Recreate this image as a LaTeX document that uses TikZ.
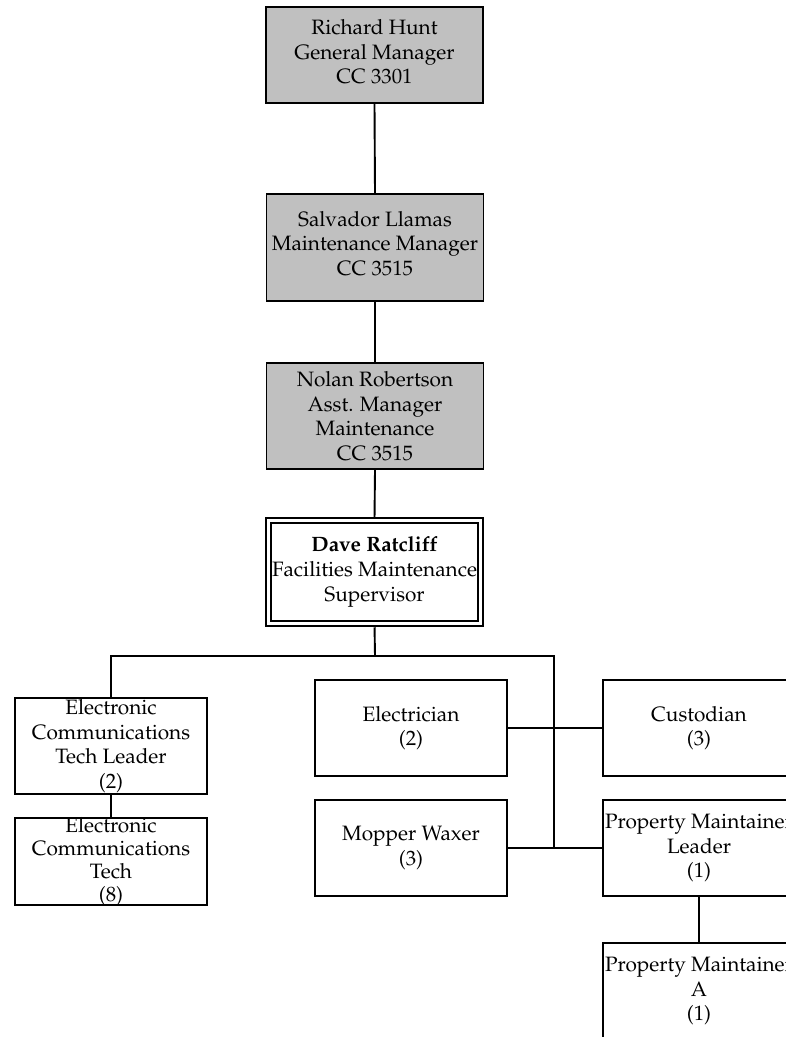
\documentclass[tikz,border=0pt]{standalone}
\usepackage[T1]{fontenc}
\usepackage{mathpazo}
\definecolor{boxgray}{RGB}{192,192,192}
\begin{document}
\begin{tikzpicture}[x=1pt,y=-1pt,
  base/.style={draw, line width=1.9pt, inner sep=0pt, rectangle},
  gbox/.style={base, fill=boxgray, minimum width=217pt, minimum height=#1},
  wbox/.style={base, fill=white, minimum width=192pt, minimum height=#1},
  dbox/.style={draw, line width=1.5pt, double=white, double distance=3.5pt, inner sep=0pt,
    minimum width=212pt, minimum height=103pt},
  lbl/.style={align=center, inner sep=0pt, font=\fontsize{20.8}{24.6}\selectfont},
  conn/.style={line width=1.9pt}]
\useasboundingbox (0,0) rectangle (786,1037);
\clip (0,0) rectangle (786,1037);
\fill[white] (0,0) rectangle (786,1037);

% boxes
\node[gbox=96pt] (b1) at (374.5,55) {};
\node[gbox=107pt] (b2) at (375,247.5) {};
\node[gbox=106pt] (b3) at (375,416) {};
\node[dbox] (dave) at (374.5,572) {};
\node[wbox=96pt] (ect1) at (111,746) {};
\node[wbox=87pt] (ect2) at (111,861.5) {};
\node[wbox=96pt] (elec) at (411,728) {};
\node[wbox=96pt] (cust) at (699,728) {};
\node[wbox=96pt] (mop) at (411,848) {};
\node[wbox=96pt] (pml) at (699,848) {};
\node[wbox=96pt] (pma) at (699,991) {};

% labels
\node[lbl, yshift=3pt] (t1) at (b1) {Richard Hunt\\General Manager\\CC 3301};
\node[lbl, yshift=4pt] (t2) at (b2) {Salvador Llamas\\Maintenance Manager\\CC 3515};
\node[lbl] (t3) at (b3) {Nolan Robertson\\Asst. Manager\\Maintenance\\CC 3515};
\node[lbl] (t4) at (dave) {\textbf{Dave Ratcliff}\\Facilities Maintenance\\Supervisor};
\node[lbl] (t5) at (ect1) {Electronic\\Communications\\Tech Leader\\(2)};
\node[lbl, font=\fontsize{20.8}{23}\selectfont] (t6) at (ect2) {Electronic\\Communications\\Tech\\(8)};
\node[lbl] (t7) at (elec) {Electrician\\(2)};
\node[lbl] (t8) at (cust) {Custodian\\(3)};
\node[lbl] (t9) at (mop) {Mopper Waxer\\(3)};
\node[lbl] (t10) at (pml) {Property Maintainer\\Leader\\(1)};
\node[lbl] (t11) at (pma) {Property Maintainer\\A\\(1)};

% junctions
\coordinate (j) at (375,656);
\coordinate (jr) at (554,656);
\coordinate (jb) at (554,848);

% connectors
\draw[conn] (b1.south) -- (b2.north);
\draw[conn] (b2.south) -- (b3.north);
\draw[conn, shorten >=3pt] (b3.south) -- (dave.north);
\draw[conn, shorten <=3pt] (dave.south) -- (j);
\draw[conn] (ect1.north) |- (jr) -- (jb);
\draw[conn] (ect1.south) -- (ect2.north);
\draw[conn] (elec.east) -- (cust.west);
\draw[conn] (mop.east) -- (pml.west);
\draw[conn] (pml.south) -- (pma.north);
\end{tikzpicture}
\end{document}
